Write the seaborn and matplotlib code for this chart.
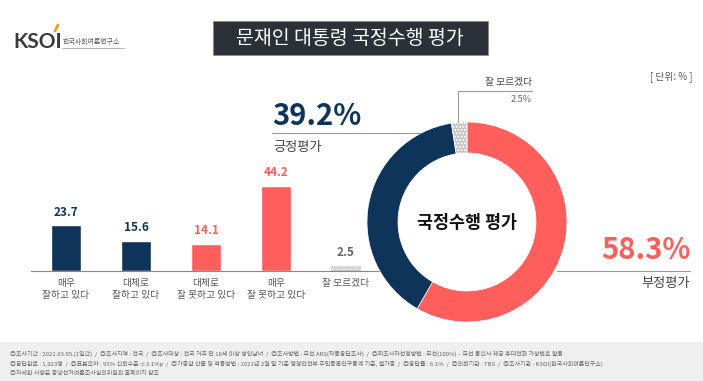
import matplotlib
matplotlib.use('Agg')
import matplotlib.pyplot as plt
import matplotlib.patches as mpatches
from matplotlib.lines import Line2D
import seaborn as sns
import pandas as pd

categories = ['매우\n잘하고 있다', '대체로\n잘하고 있다', '대체로\n잘 못하고 있다',
              '매우\n잘 못하고 있다', '잘 모르겠다']
bar_values = [23.7, 15.6, 14.1, 44.2, 2.5]

donut_labels = ['부정평가', '긍정평가', '잘 모르겠다']
donut_values = [58.3, 39.2, 2.5]

footer_lines = [
    '◎조사기간 : 2021.03.05.(1일간)  /  ◎조사지역 : 전국  /  ◎조사대상 : 전국 거주 만 18세 이상 성인남녀  /  ◎조사방법 : 무선 ARS(자동응답조사)  /  ◎피조사자선정방법 : 무선(100%) – 무선 통신사 제공 휴대전화 가상번호 활용',
    '◎응답완료 : 1,023명  /  ◎표본오차 : 95% 신뢰수준 ±3.1%p  /  ◎가중값 산출 및 적용방법 : 2021년 2월 말 기준 행정안전부 주민등록인구통계 기준, 셀가중  /  ◎응답률 : 6.1%  /  ◎의뢰기관 : TBS  /  ◎조사기관 : KSOI(한국사회여론연구소)',
    '◎자세한 사항은 중앙선거여론조사심의위원회 홈페이지 참조',
]

NAVY = '#0e3559'
RED = '#ff5f5c'
GRAY = '#bdbdbd'
TEXT = '#444444'

sns.set_style('white')
plt.rcParams['font.family'] = ['Noto Sans CJK KR', 'DejaVu Sans']
plt.rcParams['hatch.color'] = '#ededed'

W, H = 703, 381
fig = plt.figure(figsize=(W / 100, H / 100), dpi=100)


def fx(x):
    return x / W


def fy(y):
    return 1 - y / H


# footer band
fig.patches.append(mpatches.Rectangle((0, 0), 1, fy(342), transform=fig.transFigure,
                                      facecolor='#efefef', edgecolor='none', zorder=0))
for i, line in enumerate(footer_lines):
    fig.text(fx(10), fy(354 + i * 9.5), line, fontsize=4.3, color='#666666', va='center')

# title box
fig.patches.append(mpatches.Rectangle((fx(213), fy(55)), fx(488) - fx(213), fy(21) - fy(55),
                                      transform=fig.transFigure, facecolor='#2b3137',
                                      edgecolor='#888888', linewidth=0.6))
fig.text(fx(350), fy(38), '문재인 대통령 국정수행 평가', fontsize=14, color='white',
         ha='center', va='center')

# logo
fig.text(fx(13), fy(42), 'KSOI', fontsize=15, color='#3a3a3a', va='center',
         fontweight='bold', family=['Lato', 'DejaVu Sans'])
fig.lines.append(Line2D([fx(55), fx(58)], [fy(31), fy(25)], transform=fig.transFigure,
                        color='#f39a1e', linewidth=2))
fig.text(fx(63), fy(42), '한국사회여론연구소', fontsize=5, color='#555555', va='center')
fig.lines.append(Line2D([fx(62), fx(124)], [fy(48), fy(48)], transform=fig.transFigure,
                        color='#aaaaaa', linewidth=0.6))

fig.text(fx(692), fy(77), '[ 단위: % ]', fontsize=7, color='#555555', ha='right', va='center')

# bar chart
ax = fig.add_axes([fx(31), fy(271), fx(381) - fx(31), fy(175) - fy(271)])
df = pd.DataFrame({'label': categories, 'value': bar_values})
bar_colors = [NAVY, NAVY, RED, RED, GRAY]
sns.barplot(data=df, x='label', y='value', hue='label', palette=bar_colors,
            width=0.43, legend=False, ax=ax, saturation=1)
ax.patches[-1].set_hatch('.......')
ax.patches[-1].set_linewidth(0)

label_colors = [NAVY, NAVY, RED, RED, '#666666']
for i, v in enumerate(bar_values):
    ax.annotate(f'{v}', (i, v), xytext=(0, 5), textcoords='offset points',
                ha='center', va='bottom', fontsize=8.5, fontweight='bold',
                color=label_colors[i])

ax.set_xlim(-0.5, 4.5)
ax.set_ylim(0, 50)
ax.set_xlabel('')
ax.set_ylabel('')
ax.set_yticks([])
sns.despine(ax=ax, left=True)
ax.spines['bottom'].set_color('#888888')
ax.spines['bottom'].set_linewidth(0.8)
ax.tick_params(axis='x', which='major', length=0, labelsize=7, labelcolor='#555555', pad=5)
ax.set_xticks([-0.5, 0.5, 1.5, 2.5, 3.5], minor=True)
ax.tick_params(axis='x', which='minor', length=3, color='#888888', direction='out')
ax.patch.set_alpha(0)

# donut
ax2 = fig.add_axes([fx(367), fy(322), fx(567) - fx(367), fy(122) - fy(322)])
wedges, _ = ax2.pie(donut_values, colors=[RED, NAVY, '#c4c4c4'], startangle=90,
                    counterclock=False, radius=1,
                    wedgeprops=dict(width=0.31, edgecolor='white', linewidth=0.5))
wedges[2].set_hatch('.....')
ax2.set_xlim(-1, 1)
ax2.set_ylim(-1, 1)
ax2.set_aspect('auto')
ax2.axis('off')
ax2.text(0, -0.01, '국정수행 평가', ha='center', va='center', fontsize=12.5,
         fontweight='bold', color='#111111')

# positive label
fig.text(fx(272), fy(116), f'{donut_values[1]}%', fontsize=21, fontweight='bold',
         color=NAVY, va='center')
fig.lines.append(Line2D([fx(272), fx(420)], [fy(133), fy(133)], transform=fig.transFigure,
                        color='#999999', linewidth=0.8))
fig.text(fx(273), fy(147), donut_labels[1], fontsize=9.5, color=TEXT, va='center')

# negative label
fig.text(fx(691), fy(250), f'{donut_values[0]}%', fontsize=21, fontweight='bold',
         color=RED, va='center', ha='right')
fig.lines.append(Line2D([fx(557), fx(690)], [fy(271), fy(271)], transform=fig.transFigure,
                        color='#999999', linewidth=0.8))
fig.text(fx(690), fy(284), donut_labels[0], fontsize=9.5, color=TEXT, va='center', ha='right')

# don't know label
fig.lines.append(Line2D([fx(458), fx(458), fx(532)], [fy(122), fy(91), fy(91)],
                        transform=fig.transFigure, color='#999999', linewidth=0.8))
fig.text(fx(532), fy(82), donut_labels[2], fontsize=7, color=TEXT, va='center', ha='right')
fig.text(fx(532), fy(99), f'{donut_values[2]}%', fontsize=6.5, color='#666666',
         va='center', ha='right')

fig.savefig('out.png', dpi=100)
